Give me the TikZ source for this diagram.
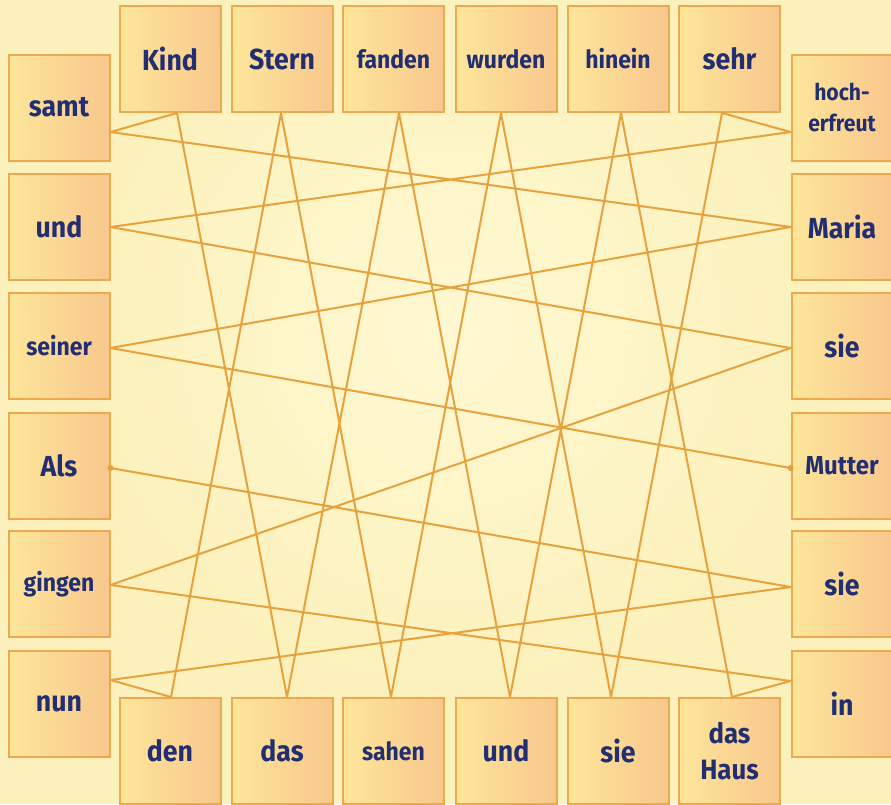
\documentclass[tikz,border=0pt]{standalone}
\usepackage{fontspec}
\setmainfont{Fira Sans}[FakeStretch=0.92]
\definecolor{bgyellow}{HTML}{FCF1BC}
\definecolor{bglight}{HTML}{FFF8D2}
\definecolor{boxleft}{HTML}{FDE69A}
\definecolor{boxright}{HTML}{F8C78D}
\definecolor{boxline}{HTML}{EDA94E}
\definecolor{linkcol}{HTML}{E6A23D}
\definecolor{ink}{HTML}{222E72}
\tikzset{
  wordbox/.style={draw=boxline, line width=2pt, left color=boxleft, right color=boxright,
    minimum width=101pt, minimum height=106pt, inner sep=0pt, text=ink, align=center,
    font=\bfseries\fontsize{29}{30}\selectfont},
  smallword/.style={font=\bfseries\fontsize{25}{26}\selectfont},
  link/.style={draw=linkcol, line width=2pt, line join=round}
}
\begin{document}
\begin{tikzpicture}[x=1pt, y=-1pt]
                \useasboundingbox (0,0) rectangle (891,804);
                % Background
                \fill[bgyellow] (0,0) rectangle (891,804);
                \shade[inner color=bglight, outer color=bgyellow] (450,330) circle (380);

                % Top row
                \node[wordbox] (kind) at (170,59) {Kind};
                \node[wordbox] (stern) at (282,59) {Stern};
                \node[wordbox, smallword] (fanden) at (393.5,59) {fanden};
                \node[wordbox, smallword] (wurden) at (506,59) {wurden};
                \node[wordbox, smallword] (hinein) at (618,59) {hinein};
                \node[wordbox] (sehr) at (729.5,59) {sehr};

                % Bottom row
                \node[wordbox] (den) at (170,751) {den};
                \node[wordbox] (dasA) at (282,751) {das};
                \node[wordbox, smallword] (sahen) at (393.5,751) {sahen};
                \node[wordbox] (undB) at (506,751) {und};
                \node[wordbox] (sieC) at (618,751) {sie};
                \node[wordbox, font=\bfseries\fontsize{28}{36}\selectfont] (haus) at (729.5,751) {das\\Haus};

                % Left column
                \node[wordbox] (samt) at (59,107.5) {samt};
                \node[wordbox] (undL) at (59,227) {und};
                \node[wordbox, smallword] (seiner) at (59,346) {seiner};
                \node[wordbox] (als) at (59,465.5) {Als};
                \node[wordbox, smallword] (gingen) at (59,584) {gingen};
                \node[wordbox] (nun) at (59,703.5) {nun};

                % Right column
                \node[wordbox, font=\bfseries\fontsize{23}{31}\selectfont] (hoch) at (842,107.5) {hoch-\\erfreut};
                \node[wordbox] (maria) at (842,227) {Maria};
                \node[wordbox] (sieA) at (842,346) {sie};
                \node[wordbox, font=\bfseries\fontsize{26}{28}\selectfont] (mutter) at (842,465.5) {Mutter};
                \node[wordbox] (sieB) at (842,584) {sie};
                \node[wordbox] (inBox) at (842,703.5) {in};

                % Attachment points
                \coordinate (kind-a) at ([xshift=7pt]kind.south);
                \coordinate (stern-a) at ([xshift=-1pt]stern.south);
                \coordinate (fanden-a) at ([xshift=5.5pt]fanden.south);
                \coordinate (wurden-a) at ([xshift=-5pt]wurden.south);
                \coordinate (hinein-a) at ([xshift=3pt]hinein.south);
                \coordinate (sehr-a) at ([xshift=-7.5pt]sehr.south);
                \coordinate (den-a) at ([xshift=1pt]den.north);
                \coordinate (dasA-a) at ([xshift=5pt]dasA.north);
                \coordinate (sahen-a) at ([xshift=-2.5pt]sahen.north);
                \coordinate (undB-a) at ([xshift=4pt]undB.north);
                \coordinate (sieC-a) at ([xshift=-7pt]sieC.north);
                \coordinate (haus-a) at ([xshift=2.5pt]haus.north);
                \coordinate (samt-a) at ([yshift=-24.5pt]samt.east);
                \coordinate (undL-a) at (undL.east);
                \coordinate (seiner-a) at ([yshift=-2pt]seiner.east);
                \coordinate (als-a) at ([yshift=-2.5pt]als.east);
                \coordinate (gingen-a) at ([yshift=-1pt]gingen.east);
                \coordinate (nun-a) at ([yshift=23.5pt]nun.east);
                \coordinate (hoch-a) at ([yshift=-24.5pt]hoch.west);
                \coordinate (maria-a) at (maria.west);
                \coordinate (sieA-a) at ([yshift=-2pt]sieA.west);
                \coordinate (mutter-a) at ([yshift=-2.5pt]mutter.west);
                \coordinate (sieB-a) at ([yshift=-3pt]sieB.west);
                \coordinate (inBox-a) at ([yshift=22.5pt]inBox.west);

                % The sentence path
                \draw[link] (als-a) -- (sieB-a) -- (nun-a) -- (den-a) -- (stern-a)
                  -- (sahen-a) -- (wurden-a) -- (sieC-a) -- (sehr-a) -- (hoch-a)
                  -- (undL-a) -- (sieA-a) -- (gingen-a) -- (inBox-a) -- (haus-a)
                  -- (hinein-a) -- (undB-a) -- (fanden-a) -- (dasA-a) -- (kind-a)
                  -- (samt-a) -- (maria-a) -- (seiner-a) -- (mutter-a);
                \fill[linkcol] (als-a) circle (3);
                \fill[linkcol] (mutter-a) circle (3);
            \end{tikzpicture}
\end{document}
